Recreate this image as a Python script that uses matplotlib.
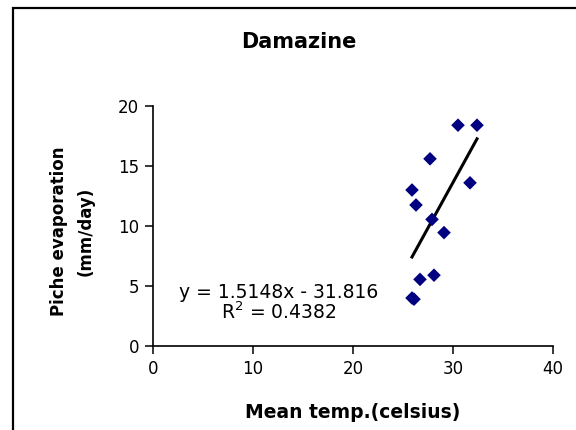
import numpy as np
import matplotlib
matplotlib.use("Agg")
import matplotlib.pyplot as plt
from matplotlib.patches import Rectangle

# Damazine: monthly mean temperature vs Piche evaporation
mean_temp = [30.5, 32.4, 27.7, 31.7, 25.9, 26.3, 27.9, 29.1, 28.1, 26.7, 25.9, 26.1]
piche_evap = [18.4, 18.4, 15.6, 13.6, 13.0, 11.75, 10.55, 9.45, 5.9, 5.55, 4.0, 3.9]

# linear trend as reported on the chart
slope = 1.5148
intercept = -31.816
r_squared = 0.4382

x_ticks = [0, 10, 20, 30, 40]
y_ticks = [0, 5, 10, 15, 20]

plt.rcParams['font.family'] = ['DejaVu Sans']

W, H = 576, 430
fig = plt.figure(figsize=(W / 100, H / 100), dpi=100)
ax = fig.add_axes([153 / W, 1 - 346 / H, 400 / W, 240 / H])

ax.scatter(mean_temp, piche_evap, marker='D', s=48, color='#000080',
           edgecolors='none', zorder=3)

# trend line over the data range
xt = np.array([min(mean_temp), max(mean_temp)])
ax.plot(xt, slope * xt + intercept, color='black', lw=2.2, zorder=2)

ax.set_xlim(0, 40)
ax.set_ylim(0, 20)
ax.set_xticks(x_ticks)
ax.set_yticks(y_ticks)
ax.tick_params(direction='out', length=6, width=1.1, labelsize=12, pad=4,
               colors='black')
for side in ['top', 'right']:
    ax.spines[side].set_visible(False)
for side in ['left', 'bottom']:
    ax.spines[side].set_linewidth(1.2)
    ax.spines[side].set_clip_on(False)

ax.text(0.315, 0.225, "y = 1.5148x - 31.816", transform=ax.transAxes,
        ha='center', va='center', fontsize=13.5)
ax.text(0.315, 0.142, "R$^2$ = %.4f" % r_squared, transform=ax.transAxes,
        ha='center', va='center', fontsize=13.5)

fig.text(299 / W, 1 - 42 / H, "Damazine", ha='center', va='center',
         fontsize=15, fontweight='bold')
fig.text(353 / W, 1 - 412 / H, "Mean temp.(celsius)", ha='center',
         va='center', fontsize=13.5, fontweight='bold')
fig.text(72 / W, 1 - 231 / H, "Piche evaporation\n(mm/day)", ha='center',
         va='center', rotation=90, fontsize=12, fontweight='bold',
         multialignment='center', linespacing=1.6)

# chart area border (runs off the right and bottom edges)
fig.patches.append(Rectangle((13 / W, -0.1), 1.0, 1.1 - 8 / H,
                             transform=fig.transFigure, fill=False,
                             edgecolor='black', lw=1.6))

fig.savefig("out.png", dpi=100)
